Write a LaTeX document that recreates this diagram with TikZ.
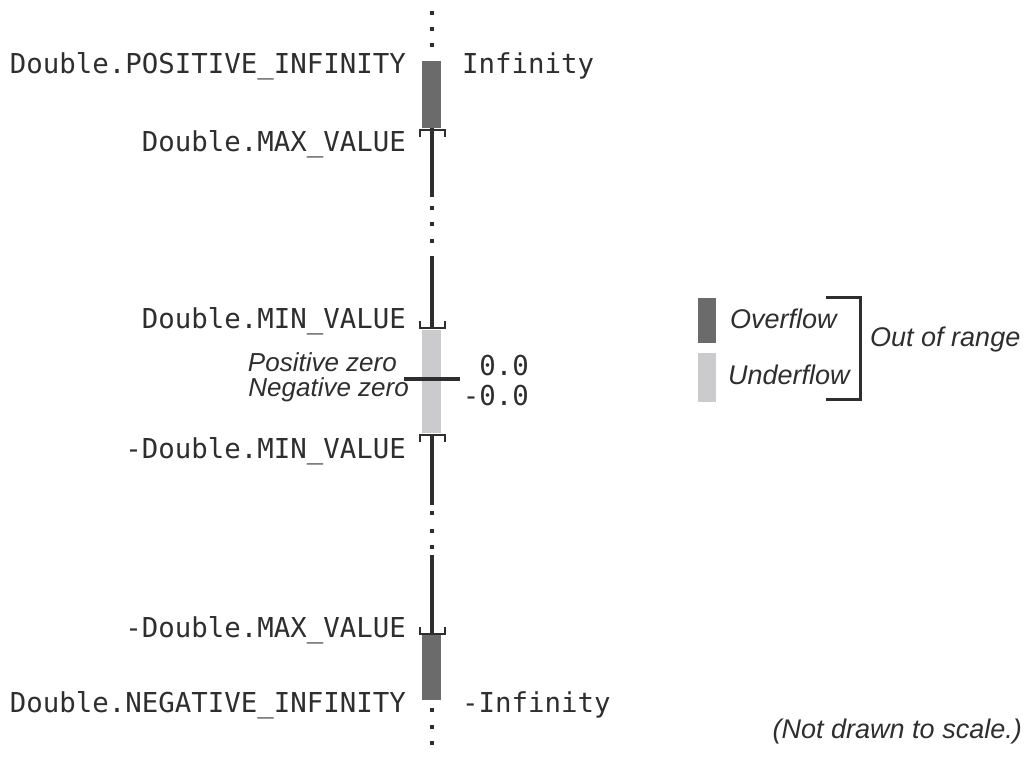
\documentclass[tikz,border=0pt]{standalone}
\usepackage{fontspec}
\setmainfont{Liberation Sans}
\newfontfamily\monof{DejaVu Sans Mono}
\definecolor{ink}{HTML}{2E2E2E}
\definecolor{darkbar}{HTML}{6B6B6B}
\definecolor{lightbar}{HTML}{CBCBCD}
\begin{document}
\begin{tikzpicture}[x=1bp,y=-1bp,
  mono/.style={font=\monof\fontsize{27.4bp}{30bp}\selectfont, text=ink, inner sep=0pt},
  itl/.style={font=\itshape\fontsize{27bp}{29bp}\selectfont, text=ink, inner sep=0pt},
  itls/.style={font=\itshape\fontsize{26bp}{28bp}\selectfont, text=ink, inner sep=0pt},
  axisline/.style={line width=3.5bp, draw=ink},
  tickline/.style={line width=2.2bp, draw=ink},
  dotsq/.style={fill=ink},
  overbar/.style={fill=darkbar},
  underbar/.style={fill=lightbar}]
\useasboundingbox (0,0) rectangle (1033,758);
% bars
\fill[overbar] (422,61) rectangle (441,128);
\fill[underbar] (422,330) rectangle (441,433);
\fill[overbar] (422,634) rectangle (441,700);
% axis lines
\coordinate (a1) at (432,128); \coordinate (a2) at (432,197);
\coordinate (a3) at (432,256); \coordinate (a4) at (432,327);
\coordinate (a5) at (432,435); \coordinate (a6) at (432,505);
\coordinate (a7) at (432,555); \coordinate (a8) at (432,633);
\draw[axisline] (a1) -- (a2);
\draw[axisline] (a3) -- (a4);
\draw[axisline] (a5) -- (a6);
\draw[axisline] (a7) -- (a8);
% dots
\foreach \yy in {13,29,45,208,224,241,513,531,547,710,727,743}
  \fill[dotsq] (430,\yy-2) rectangle (434,\yy+2);
% brackets
\draw[tickline] (420,137) -- (420,130) -- (445,130) -- (445,137);
\draw[tickline] (420,321) -- (420,328) -- (445,328) -- (445,321);
\draw[tickline] (420,442) -- (420,435) -- (445,435) -- (445,442);
\draw[tickline] (420,627) -- (420,634) -- (445,634) -- (445,627);
% zero line
\coordinate (z1) at (404,379); \coordinate (z2) at (460,379);
\draw[axisline] (z1) -- (z2);
% left labels
\node[mono, anchor=base east] (pinf) at (406,74) {Double.POSITIVE\_INFINITY};
\node[mono, anchor=base east] (maxv) at (406,151) {Double.MAX\_VALUE};
\node[mono, anchor=base east] (minv) at (406,328) {Double.MIN\_VALUE};
\node[mono, anchor=base east] (nminv) at (406,458) {-Double.MIN\_VALUE};
\node[mono, anchor=base east] (nmaxv) at (406,637) {-Double.MAX\_VALUE};
\node[mono, anchor=base east] (ninf) at (406,712) {Double.NEGATIVE\_INFINITY};
% right labels
\node[mono, anchor=base west] (infr) at (462,74) {Infinity};
\node[mono, anchor=base west] (ninfr) at (462,712) {-Infinity};
\node[mono, anchor=base east] (pz) at (529,375) {0.0};
\node[mono, anchor=base east] (nz) at (529,405) {-0.0};
\node[itls, anchor=base east, text depth=0pt] (pzl) at (397,371) {Positive zero};
\node[itls, anchor=base east, text height=14bp] (nzl) at (409,396) {Negative zero};
% legend
\fill[overbar] (698,298) rectangle (716,343);
\fill[underbar] (698,353) rectangle (716,402);
\node[itl, anchor=base west] (ovf) at (730,328) {Overflow};
\node[itl, anchor=base west] (unf) at (728,384) {Underflow};
\coordinate (b1) at (826,297); \coordinate (b2) at (860,297);
\coordinate (b3) at (860,399); \coordinate (b4) at (826,399);
\draw[line width=3bp, draw=ink] (b1) -- (b2) -- (b3) -- (b4);
\node[itl, anchor=base west] (oor) at (870,346) {Out of range};
\node[itl, anchor=base east] (note) at (1022,738) {(Not drawn to scale.)};
\end{tikzpicture}
\end{document}
